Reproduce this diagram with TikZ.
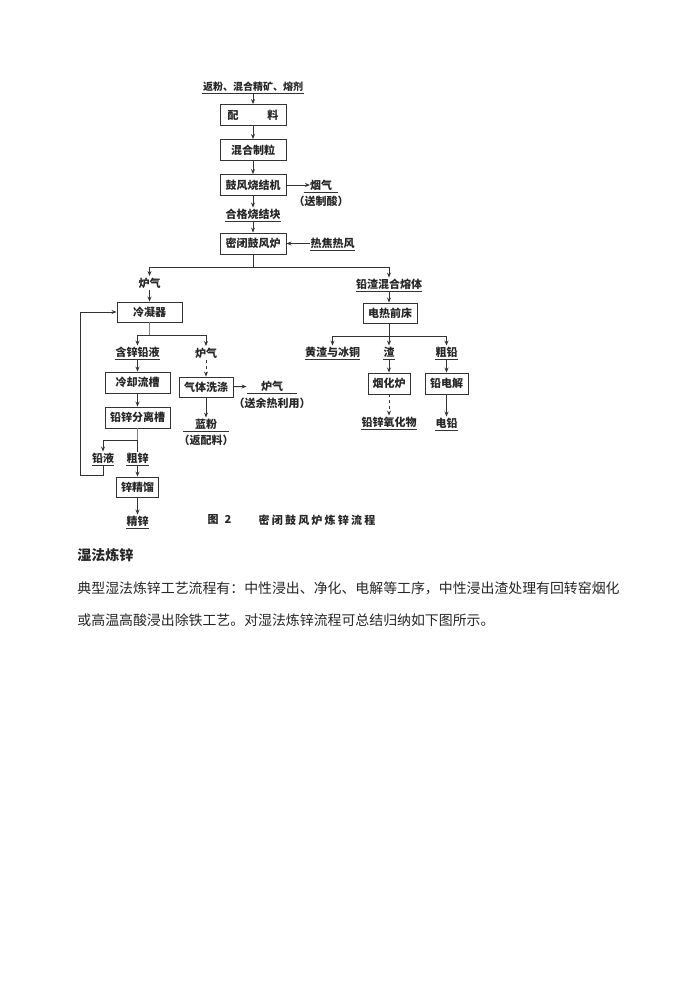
\documentclass[tikz,border=0pt]{standalone}
\usepackage{fontspec}
\usetikzlibrary{arrows.meta}
\setmainfont{Noto Sans CJK SC}
\newfontfamily\widefont[LetterSpace=20]{Noto Sans CJK SC}
\tikzset{
  every path/.style={line width=.9pt,black!80},
  every node/.style={inner sep=0pt,text=black!85},
  >={Stealth[length=5pt,width=4pt]},
  box/.style={draw,minimum width=66pt,minimum height=21pt,font=\fontsize{11}{11}\selectfont\bfseries},
  txt/.style={minimum height=13pt,font=\fontsize{11}{11}\selectfont\bfseries},
  ul/.style={txt,append after command={(\tikzlastnode.south west) edge (\tikzlastnode.south east)}},
  dul/.style={txt,append after command={(\tikzlastnode.south west) edge[line width=1.6pt] (\tikzlastnode.south east)}},
  body/.style={anchor=west,font=\fontsize{13.9}{14}\selectfont},
}
\begin{document}
\begin{tikzpicture}[x=1pt,y=-1pt]
\useasboundingbox (0,0) rectangle (696,983);
\node[ul,minimum width=102pt,font=\fontsize{10}{11}\selectfont\bfseries] (fanfen) at (253,86.5) {返粉、混合精矿、熔剂};
\node[box] (peiliao) at (253,115) {配\hspace{29pt}料};
\node[box] (zhili) at (253,150) {混合制粒};
\node[box] (shaojie) at (253,185) {鼓风烧结机};
\node[ul,minimum width=34pt] (yanqi) at (321,185.5) {烟气};
\coordinate (yanqitip) at (310,185);
\node[txt] (zhisuan) at (321,201) {（送制酸）};
\node[ul,minimum width=56pt] (hege) at (253,214.5) {合格烧结块};
\node[box] (milu) at (253,243.5) {密闭鼓风炉};
\node[ul,minimum width=45pt] (refeng) at (332.5,243.5) {热焦热风};
\coordinate (splitmain) at (253,267);
\node[txt] (luqia) at (149.5,283) {炉气};
\node[ul,minimum width=66pt] (qianzha) at (389,284.5) {铅渣混合熔体};
\node[box,minimum width=65pt,minimum height=20pt] (lengning) at (149.5,312) {冷凝器};
\node[box,minimum width=54pt,minimum height=20pt] (qianchuang) at (390,313) {电热前床};
\coordinate (splitleft) at (149.5,335);
\coordinate (splitright) at (389,336);
\node[ul,minimum width=45pt] (hanxin) at (137.5,352.5) {含锌铅液};
\node[txt] (luqib) at (206,353) {炉气};
\node[ul,minimum width=55pt] (huangzha) at (332.5,352.5) {黄渣与冰铜};
\node[ul,minimum width=11pt] (zha) at (389,352.5) {渣};
\node[ul,minimum width=22pt] (cuqian) at (446.5,352.5) {粗铅};
\node[box,minimum width=65pt] (liucao) at (137.5,382.5) {冷却流槽};
\node[box,minimum width=54pt,minimum height=20pt] (xidi) at (206,387) {气体洗涤};
\node[ul,minimum width=50pt] (luqic) at (272,386.5) {炉气};
\node[txt] (yure) at (272,403) {（送余热利用）};
\node[box,minimum width=42pt] (yanhua) at (389,383.5) {烟化炉};
\node[box,minimum width=43pt] (dianjie) at (446.5,383.5) {铅电解};
\node[box,minimum width=65pt] (fenli) at (137.5,417.5) {铅锌分离槽};
\node[ul,minimum width=45pt] (lanfen) at (206,424.5) {蓝粉};
\node[txt] (fanliao) at (206,440) {（返配料）};
\node[ul,minimum width=56pt] (yanghua) at (389,422.5) {铅锌氧化物};
\node[dul,minimum width=21pt] (dianqian) at (446.5,423.5) {电铅};
\coordinate (splitzn) at (137.5,440);
\node[ul,minimum width=20pt] (qianye) at (103,458.5) {铅液};
\node[ul,minimum width=22pt] (cuxin) at (137.5,458.5) {粗锌};
\coordinate (loopcorner) at (80,475);
\node[box,minimum width=42pt,minimum height=20pt] (jingliu) at (137.5,487) {锌精馏};
\node[dul,minimum width=22pt] (jingxin) at (137.5,521.5) {精锌};
\node[txt,font=\fontsize{11}{11}\selectfont\bfseries\widefont] (tu) at (219.5,520) {图\hspace{6pt}2};
\node[txt,font=\fontsize{11}{11}\selectfont\bfseries\widefont] (title) at (317,520) {密闭鼓风炉炼锌流程};
\node[body,font=\fontsize{14}{14}\selectfont\bfseries] (heading) at (77,555) {湿法炼锌};
\node[body] (lineone) at (77,588) {典型湿法炼锌工艺流程有：中性浸出、净化、电解等工序，中性浸出渣处理有回转窑烟化};
\node[body] (linetwo) at (77,620) {或高温高酸浸出除铁工艺。对湿法炼锌流程可总结归纳如下图所示。};
\draw[->] (fanfen)--(peiliao);
\draw[->] (peiliao)--(zhili);
\draw[->] (zhili)--(shaojie);
\draw[->] (shaojie)--(yanqitip);
\draw[->] (shaojie)--(hege);
\draw[->] (hege)--(milu);
\draw[->] (refeng)--(milu);
\draw (milu)--(splitmain);
\draw[->] (splitmain)-|(luqia);
\draw[->] (splitmain)-|(qianzha);
\draw[->] (luqia)--(lengning);
\draw[->] (qianzha)--(qianchuang.north-|qianzha);
\draw[black!50] (lengning)--(splitleft);
\draw[->] (splitleft)-|(hanxin);
\draw[->] (splitleft)-|(luqib);
\draw[->] (hanxin)--(liucao);
\draw[->] (liucao)--(fenli);
\draw[->,dashed] (luqib)--(xidi);
\draw[->] (xidi)--(luqic.west);
\draw[->] (xidi)--(lanfen);
\draw[black!50] (fenli)--(splitzn);
\draw[->] (splitzn)-|(qianye);
\draw (splitzn)--(cuxin);
\draw[->] (qianye)|-(loopcorner)|-(lengning);
\draw[->] (cuxin)--(jingliu);
\draw[->] (jingliu)--(jingxin);
\draw (qianchuang.south-|splitright)--(splitright);
\draw[->] (splitright)-|(huangzha);
\draw[->] (splitright)--(zha);
\draw[->] (splitright)-|(cuqian);
\draw[->] (zha)--(yanhua);
\draw[->] (cuqian)--(dianjie);
\draw[->,dashed] (yanhua)--(yanghua);
\draw[->] (dianjie)--(dianqian);
\end{tikzpicture}
\end{document}
